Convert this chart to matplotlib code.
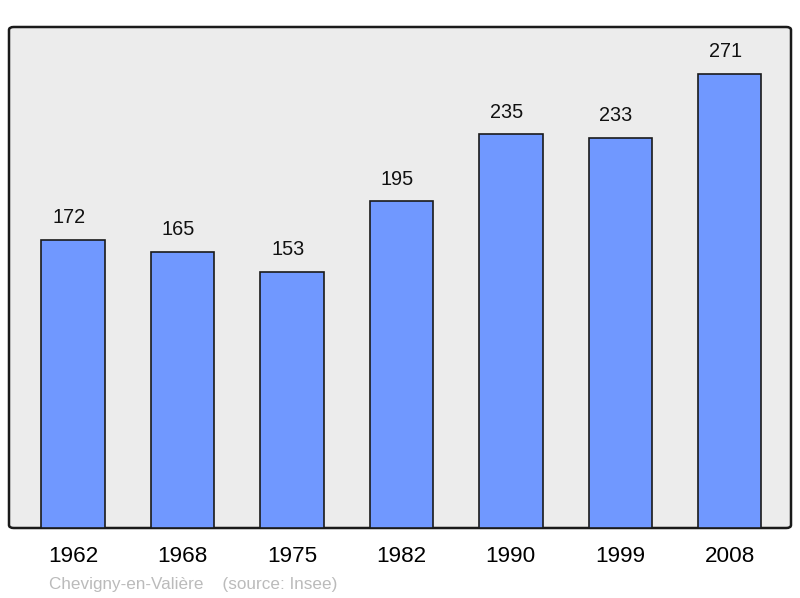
import matplotlib
matplotlib.use("Agg")
from matplotlib import pyplot as plt
from matplotlib.patches import FancyBboxPatch

years = ["1962", "1968", "1975", "1982", "1990", "1999", "2008"]
population = [172, 165, 153, 195, 235, 233, 271]
commune = "Chevigny-en-Valière"
source = "(source: Insee)"

plt.rcParams['font.family'] = ['Liberation Sans', 'DejaVu Sans']

fig = plt.figure(figsize=(8, 5.98), dpi=100)
ax = fig.add_axes([9/800, 70/598, 782/800, 501/598])
ax.set_facecolor('none')
for s in ax.spines.values():
	s.set_visible(False)

# rounded frame behind the bars
frame = FancyBboxPatch((0, 0), 1, 1, boxstyle="round,pad=0,rounding_size=0.006",
	transform=ax.transAxes, facecolor='#ececec', edgecolor='#1a1a1a',
	linewidth=1.8, zorder=0, clip_on=False)
ax.add_patch(frame)

x = range(len(years))
bars = ax.bar(x, population, width=0.58, color='#7098ff', edgecolor='#1a1a1a',
	linewidth=1.2, zorder=2)
for xi, v in zip(x, population):
	ax.annotate(str(v), (xi, v), xytext=(-3, 9), textcoords='offset points',
		ha='center', va='bottom', fontsize=14.3, color='#111111')

ax.set_xlim(-0.585, 6.56)
ax.set_ylim(0, 299)
ax.set_yticks([])
ax.set_xticks(list(x))
ax.set_xticklabels(years, fontsize=16.2)
ax.tick_params(axis='x', length=0, pad=13)

fig.text(49/800, 1 - 584/598, commune + "    " + source, fontsize=12.3,
	color='#bbbbbb', va='center', ha='left')

fig.savefig('out.png', dpi=100)
